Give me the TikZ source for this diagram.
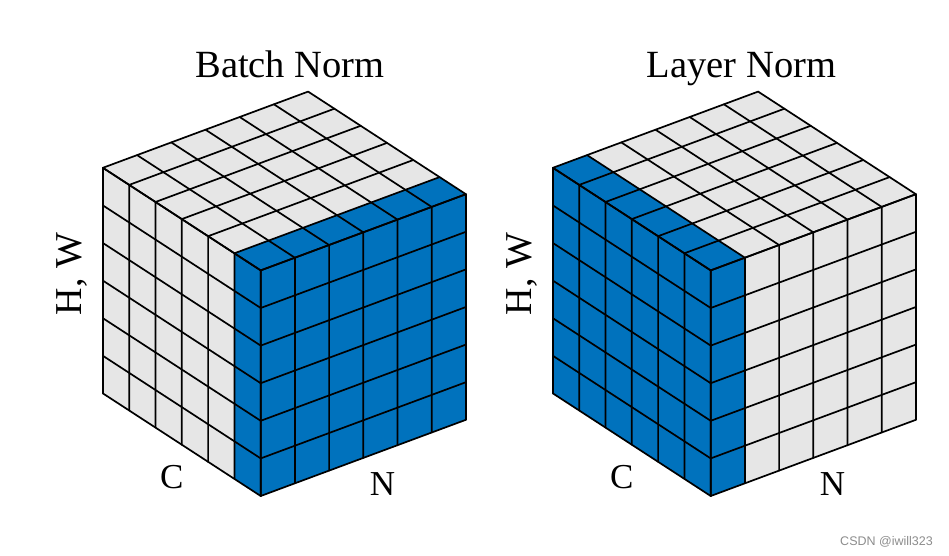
\documentclass[tikz,border=0pt]{standalone}
\usepackage{fontspec}
\setmainfont{Liberation Serif}
\newfontfamily\markfont{Liberation Sans}
\usetikzlibrary{positioning}
\definecolor{normblue}{RGB}{0,114,189}
\definecolor{cellgray}{RGB}{230,230,230}

\begin{document}
\begin{tikzpicture}[x=1pt, y=1pt,
  cubeaxes/.style={x={(34.2pt,12.7pt)}, y={(-26.3pt,17.1pt)}, z={(0pt,37.6pt)}},
  gridline/.style={draw=black, line width=1.7pt, line cap=round, line join=round},
  ttl/.style={font=\fontsize{38.5}{44}\selectfont, anchor=base},
  axlbl/.style={font=\fontsize{35}{40}\selectfont, anchor=base},
  hwlbl/.style={font=\fontsize{38}{44}\selectfont, rotate=90}
]
  \useasboundingbox (0,0) rectangle (949,555);

  % Batch Norm: one C slice
  \begin{scope}[shift={(260.7,59)}, cubeaxes]
    \fill[cellgray] (0,0,0) -- (0,6,0) -- (0,6,6) -- (0,0,6) -- cycle;
    \fill[cellgray] (0,0,6) -- (6,0,6) -- (6,6,6) -- (0,6,6) -- cycle;
    \fill[normblue] (0,0,0) -- (6,0,0) -- (6,0,6) -- (0,0,6) -- cycle;
    \fill[normblue] (0,0,0) -- (0,1,0) -- (0,1,6) -- (0,0,6) -- cycle;
    \fill[normblue] (0,0,6) -- (6,0,6) -- (6,1,6) -- (0,1,6) -- cycle;
    \foreach \k in {0,...,6} {
      \draw[gridline] (0,0,\k) -- (6,0,\k);
      \draw[gridline] (0,0,\k) -- (0,6,\k);
      \draw[gridline] (\k,0,0) -- (\k,0,6) -- (\k,6,6);
      \draw[gridline] (0,\k,0) -- (0,\k,6) -- (6,\k,6);
    }
  \end{scope}

  % Layer Norm: one N slice
  \begin{scope}[shift={(710.7,59)}, cubeaxes]
    \fill[cellgray] (0,0,0) -- (6,0,0) -- (6,0,6) -- (0,0,6) -- cycle;
    \fill[cellgray] (0,0,6) -- (6,0,6) -- (6,6,6) -- (0,6,6) -- cycle;
    \fill[normblue] (0,0,0) -- (0,6,0) -- (0,6,6) -- (0,0,6) -- cycle;
    \fill[normblue] (0,0,0) -- (1,0,0) -- (1,0,6) -- (0,0,6) -- cycle;
    \fill[normblue] (0,0,6) -- (1,0,6) -- (1,6,6) -- (0,6,6) -- cycle;
    \foreach \k in {0,...,6} {
      \draw[gridline] (0,0,\k) -- (6,0,\k);
      \draw[gridline] (0,0,\k) -- (0,6,\k);
      \draw[gridline] (\k,0,0) -- (\k,0,6) -- (\k,6,6);
      \draw[gridline] (0,\k,0) -- (0,\k,6) -- (6,\k,6);
    }
  \end{scope}

  \node[ttl] (bntitle) at (290,477.3) {Batch Norm};
  \node[hwlbl] (bnhw) at (71.5,281) {H, W};
  \node[axlbl] (bnc) at (171.7,66.7) {C};
  \node[axlbl] (bnn) at (382.5,60) {N};

  \node[ttl] (lntitle) at (741.5,477.3) {Layer Norm};
  \node[hwlbl] (lnhw) at (521.5,281) {H, W};
  \node[axlbl] (lnc) at (621.7,66.7) {C};
  \node[axlbl] (lnn) at (832.5,60) {N};

  \node[font=\markfont\fontsize{12.5}{14}\selectfont, text=black!45, anchor=base] (mark) at (886.5,10) {CSDN @iwill323};
\end{tikzpicture}
\end{document}
